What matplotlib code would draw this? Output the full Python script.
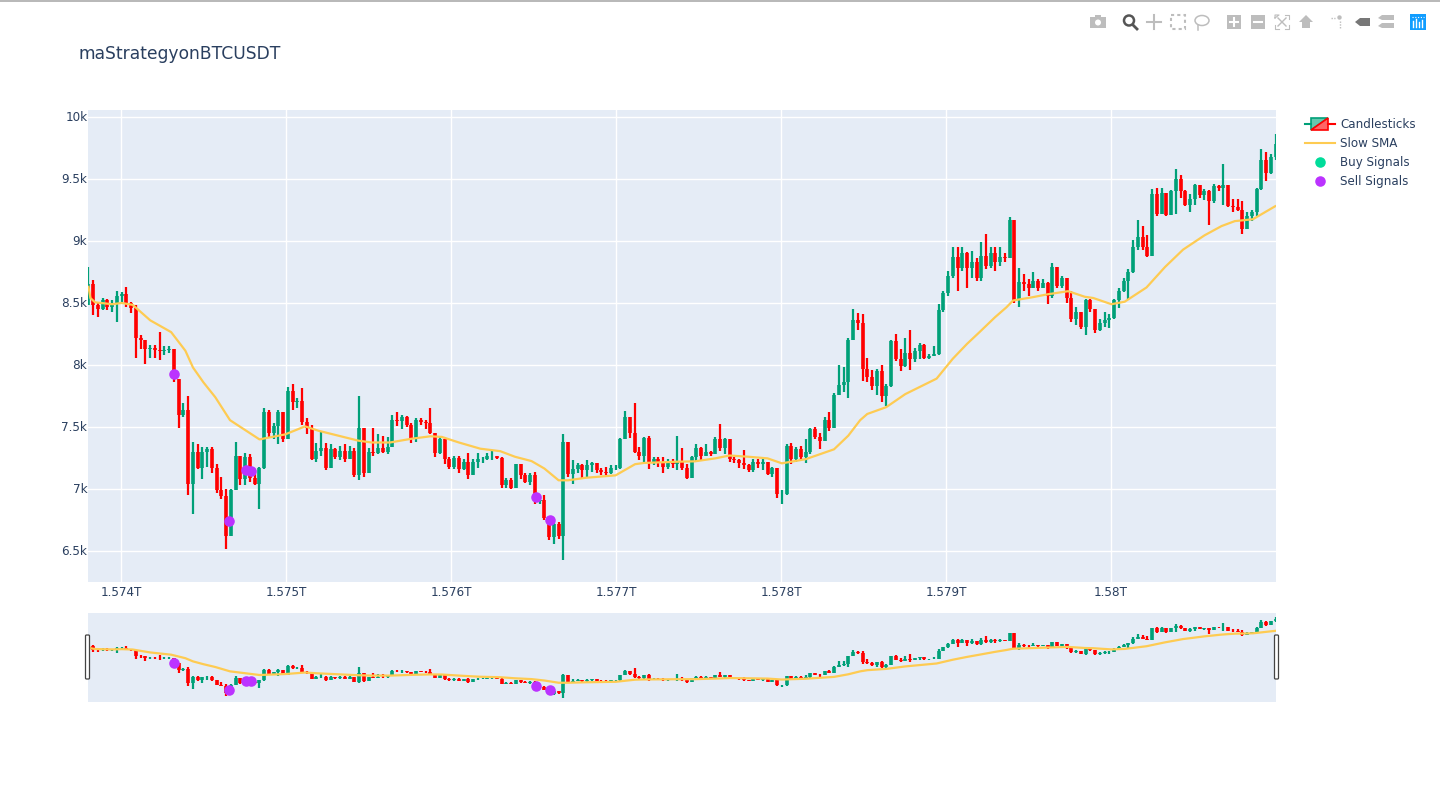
import matplotlib
matplotlib.use("Agg")
import matplotlib.pyplot as plt
from matplotlib.patches import Rectangle, Circle, Polygon, FancyBboxPatch, Ellipse
from matplotlib.transforms import ScaledTranslation
import numpy as np

# 8h candles, open = previous close
first_open = 8480
closes = [
    8650, 8480, 8450, 8520, 8470, 8490, 8560, 8570, 8500, 8460,
    8220, 8200, 8130, 8140, 8120, 8110, 8120, 8130, 7890, 7600,
    7640, 7040, 7300, 7170, 7300, 7320, 7170, 6990, 6940, 6620,
    6990, 7270, 7080, 7260, 7090, 7040, 7170, 7620, 7450, 7510,
    7620, 7400, 7790, 7700, 7710, 7540, 7490, 7240, 7310, 7330,
    7170, 7320, 7260, 7310, 7240, 7310, 7110, 7490, 7130, 7300,
    7290, 7330, 7300, 7340, 7560, 7550, 7580, 7520, 7400, 7560,
    7540, 7530, 7450, 7290, 7400, 7240, 7180, 7250, 7160, 7220,
    7110, 7220, 7240, 7240, 7270, 7270, 7250, 7030, 7070, 7010,
    7200, 7110, 7060, 7110, 6900, 6910, 6770, 6610, 6720, 6620,
    7380, 7120, 7160, 7190, 7150, 7190, 7210, 7150, 7140, 7130,
    7170, 7170, 7400, 7580, 7450, 7300, 7270, 7410, 7220, 7240,
    7210, 7180, 7220, 7200, 7220, 7170, 7090, 7260, 7330, 7270,
    7300, 7280, 7400, 7330, 7400, 7240, 7230, 7210, 7190, 7150,
    7220, 7200, 7220, 7120, 7170, 6960, 6960, 7350, 7240, 7320,
    7260, 7300, 7480, 7420, 7390, 7560, 7490, 7760, 7840, 7860,
    8200, 8360, 8340, 7970, 7900, 7830, 7950, 7750, 7830, 8190,
    8050, 7990, 8100, 8050, 8110, 8160, 8060, 8070, 8090, 8440,
    8580, 8720, 8870, 8780, 8900, 8780, 8830, 8700, 8880, 8800,
    8900, 8830, 8870, 8860, 9170, 8520, 8670, 8650, 8620, 8680,
    8620, 8660, 8560, 8790, 8640, 8700, 8540, 8370, 8430, 8310,
    8520, 8450, 8280, 8340, 8360, 8380, 8520, 8600, 8680, 8750,
    8950, 9030, 8950, 8880, 9380, 9220, 9390, 9210, 9400, 9500,
    9400, 9290, 9340, 9450, 9370, 9400, 9320, 9440, 9430, 9450,
    9280, 9270, 9250, 9100, 9200, 9230, 9420, 9650, 9550, 9680,
    9780,
]
highs = [
    8790, 8685, 8500, 8540, 8530, 8520, 8600, 8590, 8630, 8510,
    8480, 8240, 8160, 8160, 8160, 8265, 8150, 8150, 8130, 7880,
    7690, 7750, 7375, 7360, 7335, 7340, 7340, 7200, 7100, 7000,
    7000, 7375, 7250, 7290, 7280, 7150, 7180, 7650, 7640, 7530,
    7640, 7620, 7820, 7845, 7730, 7815, 7570, 7520, 7370, 7470,
    7370, 7360, 7330, 7350, 7360, 7350, 7330, 7750, 7490, 7330,
    7490, 7440, 7430, 7420, 7600, 7620, 7600, 7590, 7530, 7570,
    7570, 7560, 7650, 7450, 7420, 7400, 7260, 7270, 7270, 7240,
    7290, 7240, 7290, 7260, 7290, 7310, 7260, 7260, 7090, 7090,
    7200, 7150, 7130, 7130, 7140, 6950, 6950, 6780, 6730, 6730,
    7440, 7380, 7230, 7210, 7200, 7230, 7220, 7210, 7170, 7180,
    7190, 7190, 7410, 7630, 7560, 7690, 7340, 7420, 7430, 7260,
    7260, 7260, 7240, 7240, 7430, 7330, 7200, 7270, 7360, 7340,
    7360, 7310, 7420, 7525, 7410, 7390, 7260, 7240, 7315, 7200,
    7240, 7240, 7240, 7220, 7180, 7170, 6990, 7360, 7370, 7340,
    7350, 7400, 7490, 7500, 7450, 7580, 7620, 7770, 8000, 7980,
    8220, 8450, 8420, 8410, 8060, 7960, 7970, 8000, 7850, 8200,
    8250, 8130, 8220, 8280, 8140, 8180, 8170, 8090, 8150, 8490,
    8600, 8760, 8950, 8950, 8950, 8910, 8920, 8860, 8990, 9060,
    8950, 8950, 8950, 8900, 9195, 9160, 8780, 8730, 8690, 8750,
    8690, 8690, 8670, 8820, 8790, 8720, 8700, 8600, 8470, 8420,
    8530, 8530, 8450, 8370, 8430, 8410, 8530, 8620, 8700, 8770,
    9010, 9165, 9120, 9050, 9420, 9430, 9430, 9390, 9410, 9580,
    9530, 9410, 9380, 9460, 9450, 9420, 9410, 9460, 9450, 9620,
    9420, 9340, 9340, 9320, 9230, 9250, 9430, 9740, 9720, 9700,
    9860,
]
lows = [
    8480, 8400, 8390, 8440, 8440, 8430, 8350, 8510, 8470, 8420,
    8060, 8130, 8010, 8060, 8060, 8040, 8080, 8100, 7860, 7490,
    7580, 6950, 6800, 7160, 7080, 7180, 7130, 6970, 6920, 6515,
    6640, 6990, 7030, 7030, 7060, 7030, 6840, 7160, 7420, 7400,
    7360, 7380, 7450, 7640, 7650, 7520, 7440, 7230, 7220, 7270,
    7150, 7220, 7240, 7230, 7220, 7260, 7100, 7070, 7100, 7150,
    7270, 7280, 7290, 7280, 7340, 7510, 7480, 7500, 7370, 7380,
    7520, 7480, 7440, 7260, 7280, 7200, 7160, 7160, 7130, 7150,
    7080, 7120, 7170, 7210, 7230, 7230, 7240, 7010, 7010, 7000,
    7010, 7080, 7050, 7030, 6880, 6880, 6750, 6590, 6560, 6600,
    6430, 7100, 7040, 7130, 7080, 7100, 7140, 7130, 7110, 7110,
    7120, 7150, 7160, 7400, 7410, 7290, 7230, 7220, 7160, 7190,
    7180, 7130, 7160, 7170, 7150, 7150, 7080, 7090, 7220, 7230,
    7270, 7270, 7280, 7310, 7280, 7220, 7210, 7170, 7160, 7140,
    7140, 7170, 7150, 7110, 7100, 6930, 6875, 6950, 7200, 7220,
    7230, 7210, 7280, 7400, 7320, 7390, 7470, 7490, 7760, 7780,
    7730, 8200, 8280, 7870, 7860, 7800, 7760, 7700, 7670, 7820,
    8030, 7950, 7980, 7960, 8020, 8050, 8050, 8050, 8070, 8080,
    8430, 8560, 8700, 8600, 8760, 8620, 8700, 8680, 8680, 8770,
    8780, 8760, 8800, 8830, 8860, 8500, 8465, 8600, 8560, 8620,
    8600, 8620, 8490, 8540, 8620, 8620, 8500, 8350, 8320, 8290,
    8240, 8430, 8260, 8270, 8310, 8300, 8370, 8460, 8590, 8530,
    8740, 8930, 8930, 8870, 8990, 9200, 9220, 9200, 9260, 9220,
    9350, 9280, 9230, 9290, 9350, 9330, 9125, 9310, 9400, 9290,
    9270, 9230, 9240, 9060, 9100, 9160, 9200, 9410, 9480, 9540,
    9650,
]
start_ms = 1573803000000
step_ms = 28780000

# slow SMA, candle position and value
sma_pos = [0, 0.4, 1.4, 5, 7, 9.3, 13, 17.4, 20.4, 22, 24.2, 26.7, 29.8, 36, 41.4, 45.6,
           48.4, 56.8, 59.6, 63.5, 68, 72, 74.4, 78, 82.5, 86.7, 89.8, 93.3, 96, 99,
           101, 104.6, 111, 115.1, 117, 124, 127.7, 132, 135, 139, 143, 146, 151, 157,
           160, 162.5, 164, 168, 172, 178.6, 182, 185, 187.5, 190.9, 193.3, 194.7, 198.6,
           202, 206.3, 209.8, 211.6, 215.4, 218.2, 222.8, 226.7, 230.5, 235, 238.6, 241.4,
           245.2, 249.9]
sma_val = [8630, 8540, 8505, 8490, 8500, 8485, 8360, 8265, 8115, 7980, 7860, 7740, 7555, 7400, 7440, 7505,
           7470, 7390, 7375, 7375, 7405, 7425, 7420, 7375, 7325, 7305, 7260, 7225, 7165, 7070,
           7070, 7090, 7110, 7200, 7210, 7220, 7223, 7247, 7270, 7260, 7247, 7207, 7240, 7320,
           7430, 7555, 7605, 7660, 7765, 7890, 8050, 8170, 8260, 8385, 8465, 8520, 8545,
           8570, 8595, 8550, 8540, 8490, 8510, 8625, 8790, 8930, 9045, 9120, 9160,
           9175, 9280]

sell_times = [1574321000000, 1574655000000, 1574760000000, 1574788000000, 1576515000000, 1576600000000]
sell_prices = [7927, 6742, 7153, 7145, 6935, 6750]

x_ticks = [1574000000000, 1575000000000, 1576000000000, 1577000000000, 1578000000000, 1579000000000, 1580000000000]
x_labels = ["1.574T", "1.575T", "1.576T", "1.577T", "1.578T", "1.579T", "1.58T"]
y_ticks = [6500, 7000, 7500, 8000, 8500, 9000, 9500, 10000]
y_labels = ["6.5k", "7k", "7.5k", "8k", "8.5k", "9k", "9.5k", "10k"]

GREEN = "#00A078"
RED = "#FF0000"
YELLOW = "#FECB52"
PURPLE = "#BB33FF"
MINT = "#00DC9A"
INK = "#2A3F5F"
BG = "#E5ECF6"
ICON = "#BDBDBD"

plt.rcParams["font.family"] = ["DejaVu Sans"]

W, H = 1440, 790


def make_axes(left, top, right, bottom):
    return fig.add_axes([left / W, 1 - bottom / H, (right - left) / W, (bottom - top) / H])


def draw_all(ax):
    closes_a = np.array(closes)
    opens_a = np.array([first_open] + closes[:-1])
    times = start_ms + step_ms * np.arange(len(closes_a))
    up = closes_a >= opens_a
    for mask, col in [(up, GREEN), (~up, RED)]:
        ax.vlines(times[mask], np.array(lows)[mask], np.array(highs)[mask], color=col, lw=1.6, zorder=2)
        ax.vlines(times[mask], opens_a[mask], closes_a[mask], color=col, lw=2.6, zorder=2)
    sma_t = start_ms + step_ms * np.array(sma_pos)
    ax.plot(sma_t, sma_val, color=YELLOW, lw=1.6, zorder=3)
    ax.plot(sell_times, sell_prices, ls="none", marker="o", ms=7.6, mfc=PURPLE, mec=PURPLE, mew=0, zorder=4,
            clip_on=False)
    ax.set_xlim(1573800000000, 1581000000000)
    ax.set_ylim(6250, 10056)
    ax.set_facecolor(BG)
    for s in ax.spines.values():
        s.set_visible(False)


fig = plt.figure(figsize=(W / 100, H / 100), dpi=100, facecolor="white")

ax = make_axes(88, 110, 1276, 582)
draw_all(ax)
ax.set_xticks(x_ticks, x_labels)
ax.set_yticks(y_ticks, y_labels)
ax.grid(True, color="white", lw=1)
ax.set_axisbelow(True)
ax.tick_params(length=0, labelsize=8.64, labelcolor=INK, pad=0.5)
ax.tick_params(axis="x", pad=3)
lift = ScaledTranslation(0, 1 / 100, fig.dpi_scale_trans)
for lab in ax.get_yticklabels():
    lab.set_transform(lab.get_transform() + lift)

slider = make_axes(88, 613, 1276, 702)
draw_all(slider)
slider.set_ylim(6250, 10040)
slider.set_xticks([])
slider.set_yticks([])

# overlay in pixel coordinates for title, legend, slider handles, modebar
ov = fig.add_axes([0, 0, 1, 1], zorder=10)
ov.set_xlim(0, W)
ov.set_ylim(H, 0)
ov.axis("off")
ov.patch.set_alpha(0)

ov.plot([0, W], [0.5, 0.5], color="#ABABAB", lw=1.2)
ov.text(79, 54, "maStrategyonBTCUSDT", fontsize=12.35, color=INK, va="center", ha="left")

# legend
ov.plot([1305, 1311], [124, 124], color=GREEN, lw=1.5)
ov.plot([1328, 1335], [124, 124], color=RED, lw=1.5)
ov.add_patch(Polygon([(1311, 118), (1328, 118), (1311, 130)], fc="#66C8AE", ec=GREEN, lw=1.2))
ov.add_patch(Polygon([(1328, 118), (1328, 130), (1311, 130)], fc="#FF6666", ec=RED, lw=1.2))
ov.plot([1305, 1335], [143, 143], color=YELLOW, lw=1.5)
ov.plot([1320], [162], "o", ms=7.6, mfc=MINT, mew=0)
ov.plot([1320], [181], "o", ms=7.6, mfc=PURPLE, mew=0)
for y, name in zip([124.5, 143.5, 162.5, 181.5], ["Candlesticks", "Slow SMA", "Buy Signals", "Sell Signals"]):
    ov.text(1340, y, name, fontsize=8.6, color=INK, va="center", ha="left")

# range slider handles
for x in [85.5, 1274.5]:
    ov.add_patch(FancyBboxPatch((x, 635), 4, 44, boxstyle="round,pad=0,rounding_size=1", fc="white",
                                ec="#444444", lw=0.9))

# modebar
ov.add_patch(Rectangle((1090, 17), 16, 11, fc=ICON, ec="none"))
ov.add_patch(Rectangle((1095, 15), 6, 3, fc=ICON, ec="none"))
ov.add_patch(Circle((1098, 22.5), 3, fc="white", ec="none"))
ov.add_patch(Circle((1129, 20.5), 5, fc="none", ec="#555555", lw=1.8))
ov.plot([1133, 1137], [25, 29], color="#555555", lw=2)
ov.plot([1147, 1161], [22, 22], color=ICON, lw=1.5)
ov.plot([1154, 1154], [15, 29], color=ICON, lw=1.5)
ov.add_patch(Rectangle((1171, 15), 14, 14, fc="none", ec=ICON, lw=1.5, ls=(0, (1.5, 1.5))))
ov.add_patch(Ellipse((1202, 20.5), 14, 10, fc="none", ec=ICON, lw=1.1))
ov.plot([1198, 1198], [25, 30], color=ICON, lw=1.1)
for x0 in [1227, 1251]:
    ov.add_patch(Rectangle((x0, 15), 14, 14, fc=ICON, ec="none"))
    ov.plot([x0 + 3, x0 + 11], [22, 22], color="white", lw=1.5)
ov.plot([1234, 1234], [18, 26], color="white", lw=1.5)
ov.plot([1275, 1279, 1275, 1275], [18, 15, 15, 18], color=ICON, lw=0.8)
ov.plot([1285, 1289, 1289], [15, 15, 19], color=ICON, lw=0.8)
ov.plot([1275, 1275, 1279], [25, 29, 29], color=ICON, lw=0.8)
ov.plot([1285, 1289, 1289], [29, 29, 25], color=ICON, lw=0.8)
ov.plot([1278, 1286], [18, 26], color=ICON, lw=1)
ov.plot([1278, 1286], [26, 18], color=ICON, lw=1)
ov.add_patch(Polygon([(1299, 22), (1306, 15), (1313, 22)], fc=ICON, ec="none"))
ov.add_patch(Rectangle((1302, 22), 8, 6, fc=ICON, ec="none"))
ov.plot([1331, 1335], [18, 18], color=ICON, lw=1, ls=(0, (1, 1)))
ov.plot([1339.5, 1339.5], [21, 29], color=ICON, lw=1, ls=(0, (1, 1)))
ov.add_patch(Circle((1339.5, 17.5), 2.2, fc=ICON, ec="none"))
ov.add_patch(Polygon([(1355, 22), (1360, 18), (1370, 18), (1370, 26), (1360, 26)], fc="#777777", ec="none"))
ov.add_patch(Polygon([(1378, 18), (1382, 15), (1394, 15), (1394, 20), (1382, 20)], fc=ICON, ec="none"))
ov.add_patch(Polygon([(1378, 26), (1382, 23), (1394, 23), (1394, 28), (1382, 28)], fc=ICON, ec="none"))
ov.add_patch(Rectangle((1410, 14), 16, 16, fc="#119DFF", ec="none"))
for x, top in zip([1413, 1416, 1419, 1422], [21, 19, 22, 20]):
    ov.plot([x, x], [top, 27], color="white", lw=1)
ov.plot([1412, 1424], [16.5, 16.5], color="white", lw=0.8, ls=(0, (1, 1.5)))

fig.savefig("out.png", dpi=100)
